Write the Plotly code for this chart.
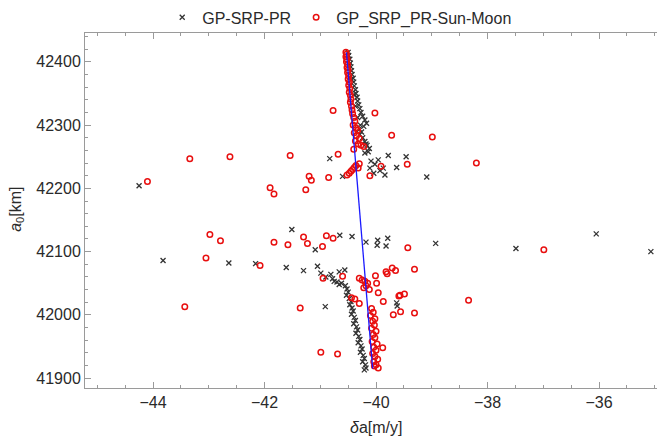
import plotly.graph_objects as go

# GP-SRP-PR (black crosses)
gp_x = [
    -40.50, -40.49, -40.47, -40.46, -40.45, -40.44, -40.43, -40.41, -40.40, -40.39,
    -40.37, -40.36, -40.34, -40.33, -40.31, -40.29, -40.27, -40.24, -40.20, -40.17,
    -40.22, -40.30, -40.34, -40.29, -40.24, -40.20, -40.16, -40.12, -40.14, -40.20,
    -40.48, -40.44, -40.40, -40.37, -40.33, -40.28, -40.26, -40.18,
    -44.25, -43.82, -42.64, -42.16, -41.61, -41.51, -41.30, -41.05, -41.09, -40.91,
    -40.83, -40.65, -40.43, -40.18, -39.97, -39.98, -39.79, -39.82, -39.46, -39.09,
    -38.93, -37.49, -36.05, -35.07, -40.60, -39.78, -39.63,
    -40.11, -40.02, -39.93, -40.09, -39.96, -39.87, -39.84, -40.04,
    -39.63, -39.62,
    -40.99, -40.81, -40.78, -40.75, -40.66, -40.56, -40.66, -40.90, -40.70, -40.62,
    -40.55, -40.52, -40.50, -40.53, -40.48, -40.45, -40.47, -40.43, -40.41, -40.44,
    -40.39, -40.37, -40.40, -40.35, -40.33, -40.36, -40.31, -40.29, -40.32, -40.27,
    -40.25, -40.28, -40.23, -40.21, -40.24, -40.19, -40.18, -40.21,
]
gp_y = [
    42415, 42410, 42404, 42398, 42392, 42386, 42380, 42374, 42368, 42362,
    42356, 42350, 42344, 42338, 42332, 42326, 42320, 42314, 42308, 42303,
    42298, 42294, 42290, 42285, 42280, 42274, 42268, 42263, 42258, 42256,
    42395, 42372, 42348, 42330, 42312, 42300, 42289, 42270,
    42204, 42086, 42082, 42081, 42075, 42135, 42070, 42077, 42103, 42013,
    42247, 42126, 42124, 42115, 42118, 42110, 42121, 42109, 42250, 42218,
    42113, 42105, 42128, 42100, 42219, 42252, 42233,
    42232, 42238, 42228, 42243, 42245, 42232, 42221, 42224,
    42019, 42014,
    42066, 42064, 42057, 42053, 42068, 42071, 42048, 42060, 42052, 42050,
    42046, 42041, 42036, 42031, 42026, 42021, 42016, 42011, 42006, 42001,
    41996, 41991, 41986, 41981, 41976, 41971, 41966, 41961, 41956, 41951,
    41946, 41941, 41936, 41931, 41926, 41921, 41916, 41913,
]

# GP_SRP_PR-Sun-Moon (red open circles)
sm_x = [
    -40.54, -40.53, -40.54, -40.52, -40.53, -40.51, -40.52, -40.50, -40.51, -40.49,
    -40.50, -40.48, -40.49, -40.47, -40.48, -40.46, -40.45, -40.46, -40.44, -40.43,
    -40.42, -40.40, -40.38, -40.41, -40.36, -40.33, -40.39, -40.35, -40.30, -40.37,
    -40.32, -40.27, -40.22, -40.40,
    -40.52, -40.48, -40.45, -40.42, -40.39, -40.36, -40.30,
    -43.34, -42.62, -41.54, -40.68, -44.10, -41.20, -41.16, -40.85, -41.90, -41.83,
    -41.26, -42.98, -42.79, -41.83, -41.58, -41.30, -41.23, -40.89, -40.77, -40.96,
    -43.05, -42.08, -40.95, -43.43, -41.36, -40.60, -40.77, -40.02, -39.72, -39.91,
    -40.11, -40.32, -38.99, -39.44, -38.20, -39.43, -36.99, -39.31, -39.49, -39.57,
    -38.34, -39.56, -39.31,
    -40.01, -39.82, -39.80, -39.71, -39.65, -39.99, -39.96, -39.59, -39.87, -39.69,
    -39.88, -40.99, -40.69,
    -40.30, -40.25, -40.20, -40.15, -40.18, -40.22, -40.12, -40.44, -40.38, -40.30,
    -40.08, -40.05, -40.10, -40.02, -40.06, -40.03, -40.08, -40.00, -40.05, -40.02,
    -40.07, -39.98, -40.04, -40.00, -40.06, -40.02, -39.97, -40.04, -40.00, -39.96,
    -40.03,
]
sm_y = [
    42415, 42412, 42408, 42404, 42400, 42396, 42391, 42387, 42383, 42378,
    42373, 42368, 42363, 42358, 42352, 42347, 42341, 42336, 42330, 42324,
    42318, 42312, 42306, 42300, 42296, 42292, 42288, 42283, 42279, 42275,
    42270, 42268, 42266, 42262,
    42221, 42224, 42227, 42230, 42233, 42236, 42239,
    42247, 42250, 42252, 42254, 42211, 42219, 42213, 42217, 42201, 42191,
    42198, 42127, 42117, 42115, 42111, 42123, 42113, 42125, 42121, 42108,
    42090, 42078, 42058, 42013, 42011, 42061, 42323, 42319, 42284, 42235,
    42220, 42232, 42281, 42238, 42240, 42106, 42103, 42072, 42033, 42031,
    42023, 42005, 42003,
    42062, 42068, 42065, 42074, 42070, 42050, 42035, 42030, 42021, 42000,
    41948, 41941, 41938,
    42058, 42055, 42053, 42050, 42046, 42043, 42040, 42027, 42025, 42018,
    42010, 42004, 41999, 41994, 41990, 41984, 41979, 41974, 41969, 41964,
    41958, 41954, 41949, 41944, 41939, 41934, 41930, 41926, 41921, 41916,
    41919,
]

# blue fitted line
fit_x = [-40.53, -40.06]
fit_y = [42415, 41915]

x_range = [-45.22, -34.96]
y_range = [41884.4, 42445.6]
x_ticks = [-44, -42, -40, -38, -36]
y_ticks = [41900, 42000, 42100, 42200, 42300, 42400]

FONT = "Liberation Sans, Arial, sans-serif"
AXC = "#9a9a9a"
TXT = "#2a2a2a"

fig = go.Figure()
fig.add_trace(go.Scatter(
    x=gp_x, y=gp_y, mode="markers", name="GP-SRP-PR",
    marker=dict(symbol="x-thin", size=5, color="#333333",
                line=dict(color="#333333", width=1.3)),
))
fig.add_trace(go.Scatter(
    x=sm_x, y=sm_y, mode="markers", name="GP_SRP_PR-Sun-Moon",
    marker=dict(symbol="circle-open", size=5.5, color="#e80f0f",
                line=dict(color="#e80f0f", width=1.5)),
))
fig.add_trace(go.Scatter(
    x=fit_x, y=fit_y, mode="lines", showlegend=False,
    line=dict(color="#1a1aff", width=1.3),
))

fig.update_layout(
    width=657, height=442,
    margin=dict(l=85, r=0, t=28, b=54),
    paper_bgcolor="white", plot_bgcolor="white",
    font=dict(family=FONT, size=16, color=TXT),
    legend=dict(orientation="h", x=0.135, xanchor="left", y=1.044, yanchor="middle",
                font=dict(size=16, color=TXT), bgcolor="rgba(0,0,0,0)",
                itemsizing="trace"),
    xaxis=dict(range=x_range, tickvals=x_ticks, ticktext=[f"\u2212{abs(v)}" for v in x_ticks],
               showgrid=False, zeroline=False,
               showline=True, linecolor=AXC, linewidth=1, mirror="ticks",
               ticks="inside", ticklen=6, tickcolor=AXC,
               minor=dict(dtick=0.5, ticks="inside", ticklen=3, tickcolor=AXC, showgrid=False),
               tickfont=dict(size=16, color=TXT)),
    yaxis=dict(range=y_range, tickvals=y_ticks, ticktext=[str(v) for v in y_ticks],
               showgrid=False, zeroline=False,
               showline=True, linecolor=AXC, linewidth=1,
               ticks="inside", ticklen=6, tickcolor=AXC,
               minor=dict(dtick=20, ticks="inside", ticklen=3, tickcolor=AXC, showgrid=False),
               tickfont=dict(size=16, color=TXT)),
    annotations=[
        dict(text="<i>δ</i>a[m/y]", xref="paper", yref="paper", x=0.509, y=-0.111,
             xanchor="center", yanchor="middle", showarrow=False,
             font=dict(size=16, color=TXT)),
        dict(text="<i>a</i><sub>0</sub>[km]", xref="paper", yref="paper", x=-0.12, y=0.503,
             xanchor="center", yanchor="middle", showarrow=False, textangle=-90,
             font=dict(size=16, color=TXT)),
    ],
)

fig.write_html("out.html")
